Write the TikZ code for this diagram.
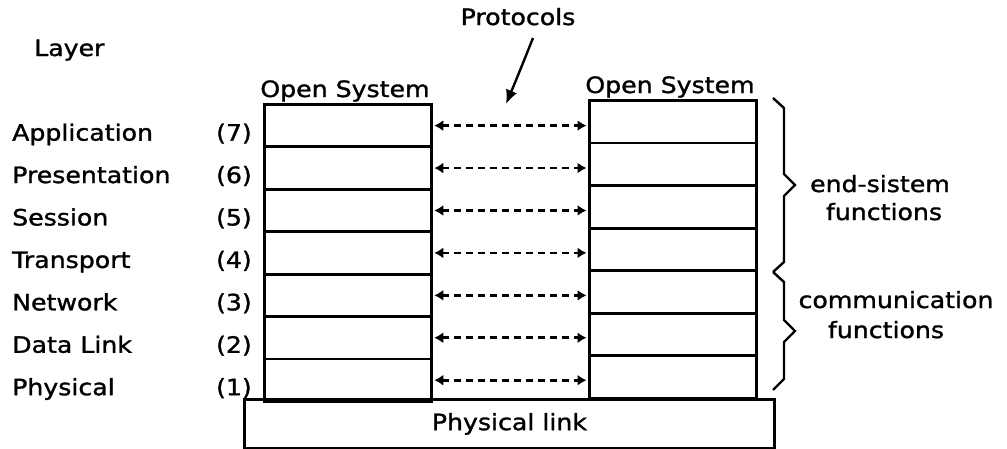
\documentclass[tikz,border=0pt]{standalone}
\usepackage{fontspec}
\setmainfont{DejaVu Sans}[FakeStretch=1.12, FakeBold=1.3]
\usetikzlibrary{arrows.meta,calc}

\tikzset{
  lbl/.style={font=\fontsize{22.5}{26}\selectfont, inner sep=0pt},
  layerrow/.style={draw, line width=2.8pt, minimum width=167pt, inner sep=0pt, anchor=north west},
  peer/.style={line width=2.6pt, dash pattern=on 7pt off 5pt,
    {Latex[length=9pt,width=11pt]}-{Latex[length=9pt,width=11pt]}, shorten <=1.5pt, shorten >=1.5pt},
  bracket/.style={line width=2.4pt, line join=miter},
  pointer/.style={line width=2.4pt, -{Latex[length=14pt,width=12pt]}}
}

\begin{document}
\begin{tikzpicture}[x=1pt, y=-1pt]
\useasboundingbox (0,0) rectangle (1007,448);

% the two protocol stacks, layer 7 at the top
\foreach \n in {7,...,1}{
  \pgfmathsetmacro{\ly}{103+(7-\n)*42.43}
  \pgfmathsetmacro{\ry}{99+(7-\n)*42.57}
  \node[layerrow, minimum height=42.43pt] (L\n) at (263,\ly) {};
  \node[layerrow, minimum height=42.57pt] (R\n) at (588,\ry) {};
}

% stack headings
\node[lbl, anchor=base] (osl) at (345,97) {Open System};
\node[lbl, anchor=base] (osr) at (670,93) {Open System};

% layer names and numbers
\foreach \n/\name in {7/Application,6/Presentation,5/Session,4/Transport,3/Network,2/Data Link,1/Physical}{
  \node[lbl, anchor=base west] (name\n) at ($(12,0)+(0,15)+(0,0)!(L\n.center)!(0,1)$) {\name};
  \node[lbl, anchor=base east] (num\n) at ($(L\n.west)+(-11,15)$) {(\n)};
  % peer-to-peer protocol between matching layers
  \draw[peer] (L\n.east) -- (L\n.east -| R\n.west);
}

% layer heading
\node[lbl, anchor=base west] (layer) at (34,56) {Layer};

% protocols label and pointer
\node[lbl, anchor=base] (protocols) at (518,25) {Protocols};
\coordinate (ptip) at (506,104);
\draw[pointer] (533,38) .. controls (525,58) and (517,78) .. (ptip);

% physical link under both stacks
\node[draw, line width=2.8pt, minimum width=530pt, minimum height=49pt, inner sep=0pt,
      anchor=north west] (link) at (243,398) {};
\node[lbl] (linklbl) at (link.center) {Physical link};

% braces grouping the layers
\draw[bracket] (773,98) -- (784,108) -- (784,174) -- (795,185) -- (784,196) -- (784,262) -- (773,272);
\draw[bracket] (773,272) -- (784,282) -- (784,320) -- (795,331) -- (784,342) -- (784,379) -- (773,390);

\node[lbl, anchor=base] (es1) at (880,192) {end-sistem};
\node[lbl, anchor=base] (es2) at (884,220) {functions};
\node[lbl, anchor=base] (cf1) at (896,308) {communication};
\node[lbl, anchor=base] (cf2) at (886,338) {functions};
\end{tikzpicture}
\end{document}
